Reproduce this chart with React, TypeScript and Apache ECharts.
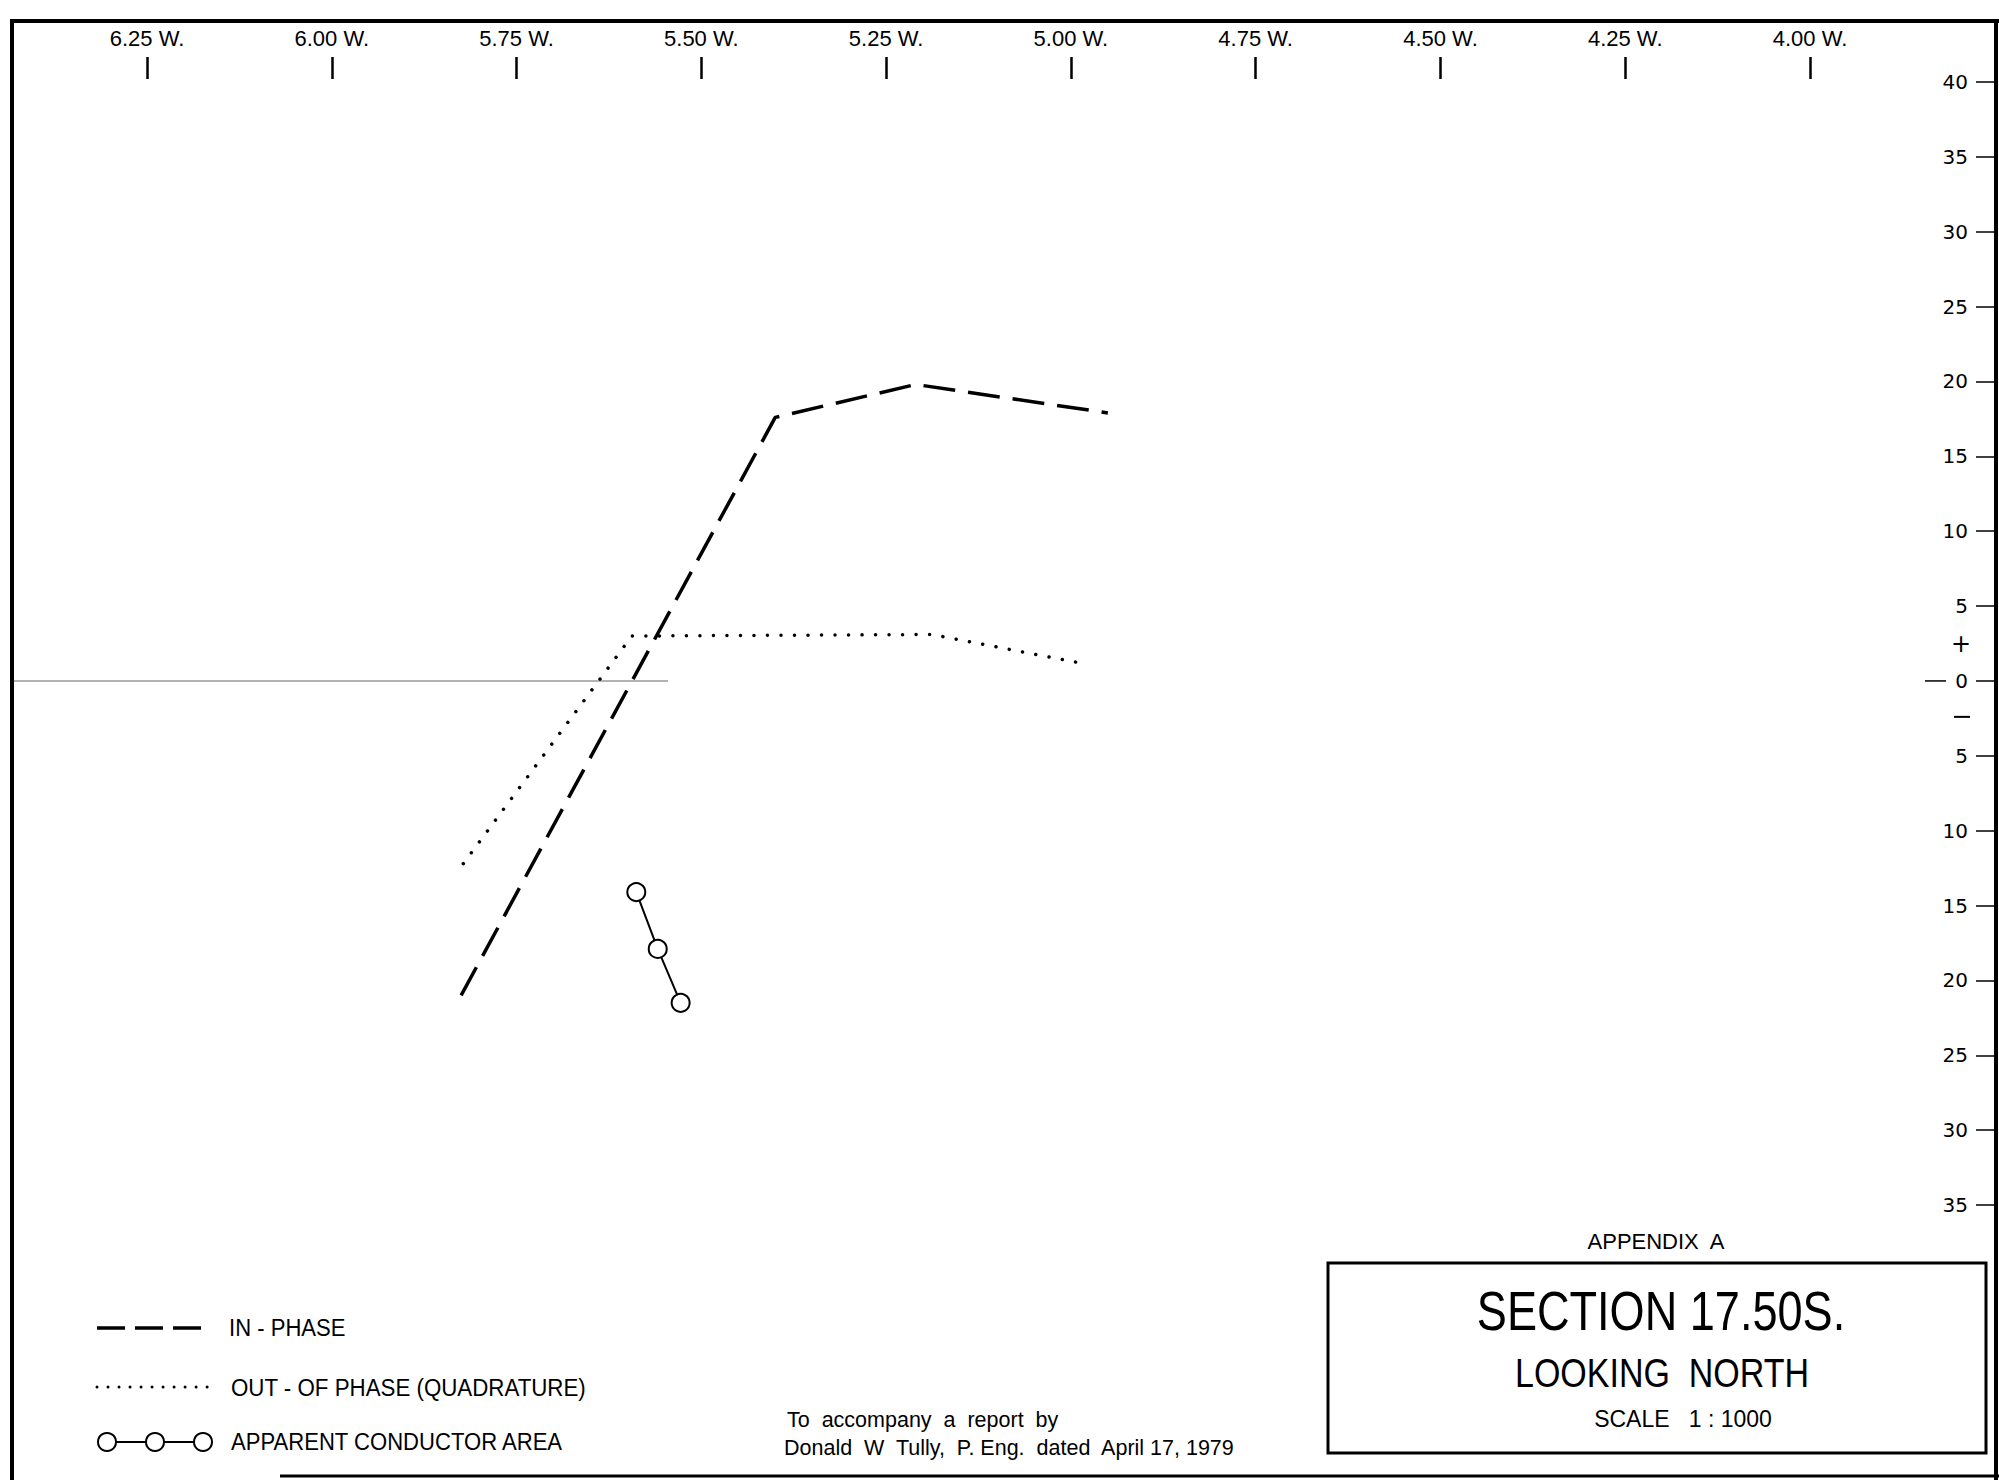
import React, { useEffect, useRef } from "react";
import * as echarts from "echarts";

// Stations along the line (hundreds of feet west) and survey readings (%)
const stationTicks = [6.25, 6.0, 5.75, 5.5, 5.25, 5.0, 4.75, 4.5, 4.25, 4.0];
const percentTicks = [40, 35, 30, 25, 20, 15, 10, 5, 0, -5, -10, -15, -20, -25, -30, -35];

const inPhaseStations = [5.825, 5.4, 5.21, 4.95];
const inPhaseValues = [-21.0, 17.6, 19.8, 17.9];

const quadratureStations = [5.822, 5.594, 5.188, 4.977];
const quadratureValues = [-12.2, 3.0, 3.1, 1.1];

const conductorStations = [5.588, 5.559, 5.528];
const conductorValues = [-14.1, -17.9, -21.5];

const baselineStations = [6.43, 5.545];
const baselineValues = [0, 0];

const legendLabels = ["IN - PHASE", "OUT - OF PHASE (QUADRATURE)", "APPARENT CONDUCTOR AREA"];
const footerLines = ["To  accompany  a  report  by", "Donald  W  Tully,  P. Eng.  dated  April 17, 1979"];
const titleLines = ["APPENDIX  A", "SECTION 17.50S.", "LOOKING  NORTH", "SCALE   1 : 1000"];

const PLAIN = "'Liberation Sans', Arial, sans-serif";
const ROUND = "'DejaVu Sans', 'Liberation Sans', sans-serif";

const W = 1999;
const H = 1480;

// horizontal layout: first and last station ticks, and the left edge of the sheet
const FIRST_TICK_X = 147;
const LAST_TICK_X = 1810;
const PX_PER_STEP = (LAST_TICK_X - FIRST_TICK_X) / (stationTicks.length - 1);
const X_LEFT_VALUE = baselineStations[0];
const X_RIGHT_VALUE = stationTicks[stationTicks.length - 1];
const GRID_LEFT = FIRST_TICK_X - ((X_LEFT_VALUE - stationTicks[0]) / 0.25) * PX_PER_STEP;

const GRID_TOP = 82;
const GRID_H = 1123;
const Y_MAX = percentTicks[0];
const Y_MIN = percentTicks[percentTicks.length - 1];
const BORDER_X = 1996;

const zip = (xs: number[], ys: number[]) => xs.map((x, i) => [x, ys[i]]);
const yPix = (v: number) => GRID_TOP + ((Y_MAX - v) * GRID_H) / (Y_MAX - Y_MIN);

function buildOption(): echarts.EChartsCoreOption {
  const text = (
    t: string,
    x: number,
    y: number,
    size: number,
    family: string,
    align: string = "left",
    scaleX = 1
  ) => ({
    type: "text",
    x,
    y,
    scaleX,
    silent: true,
    style: {
      text: t,
      fontSize: size,
      fontFamily: family,
      fill: "#000",
      textAlign: align,
      textVerticalAlign: "middle",
    },
  });
  const line = (x1: number, y1: number, x2: number, y2: number, width: number, dash?: number[], cap = "butt") => ({
    type: "line",
    silent: true,
    shape: { x1, y1, x2, y2 },
    style: { stroke: "#000", lineWidth: width, lineDash: dash, lineCap: cap },
  });
  const ring = (cx: number, cy: number) => ({
    type: "circle",
    silent: true,
    shape: { cx, cy, r: 9 },
    style: { fill: "#fff", stroke: "#000", lineWidth: 2 },
  });

  const graphic: any[] = [
    // drawing frame
    line(12, 20, 12, H, 4),
    line(10, 21, W, 21, 4),
    line(BORDER_X, 19, BORDER_X, H, 4),
    line(280, 1476, W, 1476, 3),
    // sign marks beside the zero of the percent scale
    text("+", 1961, yPix(2.5), 24, ROUND, "center"),
    line(1954, yPix(-2.4), 1970, yPix(-2.4), 2),
    line(1925, yPix(0), 1946, yPix(0), 1.5),
    // legend
    line(97, 1328, 208, 1328, 3.5, [28, 10]),
    line(97, 1387, 208, 1387, 3, [0.01, 11], "round"),
    line(107, 1442, 203, 1442, 2),
    ring(107, 1442),
    ring(155, 1442),
    ring(203, 1442),
    text(legendLabels[0], 229, 1328, 24, PLAIN, "left", 0.92),
    text(legendLabels[1], 231, 1388, 24, PLAIN, "left", 0.93),
    text(legendLabels[2], 231, 1442, 24, PLAIN, "left", 0.92),
    // report note
    text(footerLines[0], 787, 1420, 21.5, PLAIN),
    text(footerLines[1], 784, 1448, 21.5, PLAIN),
    // title block
    text(titleLines[0], 1656, 1241, 22, PLAIN, "center"),
    {
      type: "rect",
      silent: true,
      shape: { x: 1328, y: 1263, width: 658, height: 190 },
      style: { fill: "none", stroke: "#000", lineWidth: 3 },
    },
    text(titleLines[1], 1661, 1311, 55, PLAIN, "center", 0.82),
    text(titleLines[2], 1662, 1373, 40, PLAIN, "center", 0.85),
    text(titleLines[3], 1683, 1419, 23, PLAIN, "center"),
  ];

  return {
    animation: false,
    backgroundColor: "#fff",
    grid: { left: GRID_LEFT, right: W - LAST_TICK_X, top: GRID_TOP, height: GRID_H },
    xAxis: {
      type: "value",
      position: "top",
      inverse: true,
      min: X_RIGHT_VALUE,
      max: X_LEFT_VALUE,
      interval: 0.25,
      offset: 3,
      axisLine: { show: false, onZero: false },
      axisTick: {
        show: true,
        length: 22,
        customValues: stationTicks,
        lineStyle: { color: "#000", width: 2.5 },
      },
      axisLabel: {
        margin: 30,
        customValues: stationTicks,
        color: "#000",
        fontSize: 22,
        fontFamily: PLAIN,
        formatter: (v: number) => `${v.toFixed(2)} W.`,
      },
      splitLine: { show: false },
    },
    yAxis: {
      type: "value",
      position: "right",
      min: Y_MIN,
      max: Y_MAX,
      interval: 5,
      offset: BORDER_X - LAST_TICK_X,
      axisLine: { show: false, onZero: false },
      axisTick: { show: true, inside: true, length: 20, lineStyle: { color: "#000", width: 1.5 } },
      axisLabel: {
        inside: true,
        margin: 28,
        showMinLabel: true,
        showMaxLabel: true,
        color: "#000",
        fontSize: 20,
        fontFamily: ROUND,
        formatter: (v: number) => String(Math.abs(v)),
      },
      splitLine: { show: false },
    },
    series: [
      {
        name: "baseline",
        type: "line",
        symbol: "none",
        silent: true,
        data: zip(baselineStations, baselineValues),
        lineStyle: { color: "#9a9a9a", width: 1.5 },
        z: 1,
      },
      {
        name: legendLabels[0],
        type: "line",
        symbol: "none",
        silent: true,
        data: zip(inPhaseStations, inPhaseValues),
        lineStyle: { color: "#000", width: 3.5, type: [32, 13] },
        z: 3,
      },
      {
        name: legendLabels[1],
        type: "line",
        symbol: "none",
        silent: true,
        data: zip(quadratureStations, quadratureValues),
        lineStyle: { color: "#000", width: 3.5, type: [0.01, 13.5], cap: "round" },
        z: 3,
      },
      {
        name: legendLabels[2],
        type: "line",
        symbol: "circle",
        symbolSize: 18,
        silent: true,
        data: zip(conductorStations, conductorValues),
        lineStyle: { color: "#000", width: 2 },
        itemStyle: { color: "#fff", borderColor: "#000", borderWidth: 2 },
        z: 4,
      },
    ],
    graphic,
  };
}

export default function App() {
  const ref = useRef<HTMLDivElement>(null);
  useEffect(() => {
    document.body.style.margin = "0";
    const chart = echarts.init(ref.current!, null, { renderer: "svg" });
    chart.setOption(buildOption());
    return () => chart.dispose();
  }, []);
  return <div ref={ref} style={{ width: W, height: H, background: "#fff" }} />;
}
